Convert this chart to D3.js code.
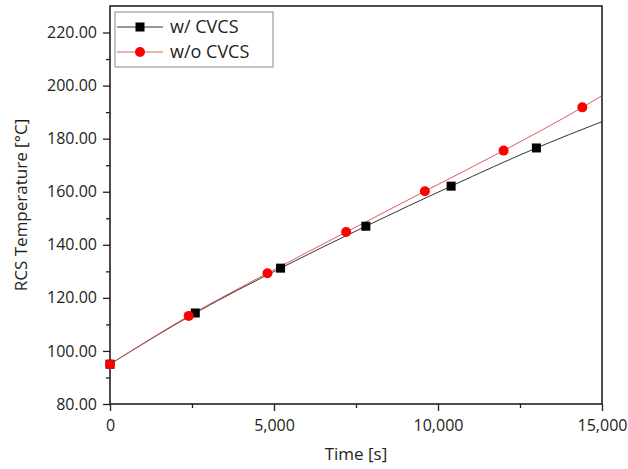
<!DOCTYPE html>
<html><head><meta charset="utf-8">
<script src="https://cdn.jsdelivr.net/npm/d3@7"></script>
<style>body{margin:0;background:#fff;} text{font-family:"Open Sans","Noto Sans",sans-serif;fill:#231f20;}</style>
</head><body>
<svg id="c" width="628" height="469"></svg>
<script>
const timeCVCS = [0, 2600, 5200, 7800, 10400, 13000, 15000];
const tempCVCS = [95.0, 114.3, 131.2, 147.0, 162.1, 176.5, 186.4];
const markCVCS = [true, true, true, true, true, true, false];
const timeNoCVCS = [0, 2400, 4800, 7200, 9600, 12000, 14400, 15000];
const tempNoCVCS = [95.0, 113.2, 129.3, 144.8, 160.2, 175.5, 191.8, 196.2];
const markNoCVCS = [true, true, true, true, true, true, true, false];
const xTicks = [0, 5000, 10000, 15000];
const xMinor = [2500, 7500, 12500];
const yTicks = [80, 100, 120, 140, 160, 180, 200, 220];
const yMinor = [90, 110, 130, 150, 170, 190, 210];
const seriesNames = ["w/ CVCS", "w/o CVCS"];

const svg = d3.select("#c");
const L = 110, R = 602, T = 6, B = 404;
const x = d3.scaleLinear().domain([0, 15000]).range([L, R]);
const y = d3.scaleLinear().domain([80, 230]).range([B, T]);

const g = svg.append("g");
const xAxis = d3.axisBottom(x).tickValues(xTicks).tickSize(7).tickPadding(6).tickFormat(d3.format(","));
const xAx = g.append("g").attr("transform", `translate(0,${B})`).call(xAxis);
const xMin = d3.axisBottom(x).tickValues(xMinor).tickSize(4).tickFormat("");
g.append("g").attr("transform", `translate(0,${B})`).call(xMin);
const yAxis = d3.axisLeft(y).tickValues(yTicks).tickSize(7).tickPadding(6).tickFormat(d3.format(".2f"));
g.append("g").attr("transform", `translate(${L},0)`).call(yAxis);
const yMin = d3.axisLeft(y).tickValues(yMinor).tickSize(4).tickFormat("");
g.append("g").attr("transform", `translate(${L},0)`).call(yMin);
g.selectAll(".domain").remove();
g.selectAll(".tick line").attr("stroke", "#231f20").attr("stroke-width", 1.3);
g.selectAll(".tick text").style("font-size", "16px").attr("fill", "#231f20");
xAx.selectAll(".tick text").attr("dy", "0.9em");

svg.append("rect").attr("x", L).attr("y", T).attr("width", R - L).attr("height", B - T)
  .attr("fill", "none").attr("stroke", "#231f20").attr("stroke-width", 1.6);

const line = d3.line().x(d => x(d[0])).y(d => y(d[1])).curve(d3.curveMonotoneX);
const d1 = timeCVCS.map((t, i) => [t, tempCVCS[i], markCVCS[i]]);
const d2 = timeNoCVCS.map((t, i) => [t, tempNoCVCS[i], markNoCVCS[i]]);

const plot = svg.append("g");
plot.append("path").attr("d", line(d1)).attr("fill", "none").attr("stroke", "#333").attr("stroke-width", 1);
plot.append("path").attr("d", line(d2)).attr("fill", "none").attr("stroke", "#e0595e").attr("stroke-width", 1);
plot.selectAll("rect.sq").data(d1.filter(d => d[2])).join("rect").attr("class", "sq")
  .attr("x", d => x(d[0]) - 4.5).attr("y", d => y(d[1]) - 4.5).attr("width", 9).attr("height", 9).attr("fill", "#000");
plot.selectAll("circle.ci").data(d2.filter(d => d[2])).join("circle").attr("class", "ci")
  .attr("cx", d => x(d[0])).attr("cy", d => y(d[1])).attr("r", 5).attr("fill", "#ff0000");

// legend
const lg = svg.append("g");
lg.append("rect").attr("x", 115).attr("y", 12).attr("width", 158).attr("height", 55)
  .attr("fill", "#fff").attr("stroke", "#888").attr("stroke-width", 1);
const rows = [{y: 27, col: "#333", mk: "sq"}, {y: 52, col: "#e0595e", mk: "ci"}];
rows.forEach((r, i) => {
  lg.append("line").attr("x1", 117).attr("x2", 163).attr("y1", r.y).attr("y2", r.y).attr("stroke", r.col).attr("stroke-width", 1);
  if (r.mk === "sq") lg.append("rect").attr("x", 140 - 4.5).attr("y", r.y - 4.5).attr("width", 9).attr("height", 9).attr("fill", "#000");
  else lg.append("circle").attr("cx", 140).attr("cy", r.y).attr("r", 5).attr("fill", "#ff0000");
  lg.append("text").attr("x", 170).attr("y", r.y).attr("dy", "0.35em").style("font-size", "18px").text(seriesNames[i]);
});

svg.append("text").attr("x", (L + R) / 2).attr("y", 460).attr("text-anchor", "middle").style("font-size", "17px").text("Time [s]");
svg.append("text").attr("transform", `translate(27,${(T + B) / 2}) rotate(-90)`).attr("text-anchor", "middle")
  .style("font-size", "17px").text("RCS Temperature [°C]");
</script>
</body></html>
